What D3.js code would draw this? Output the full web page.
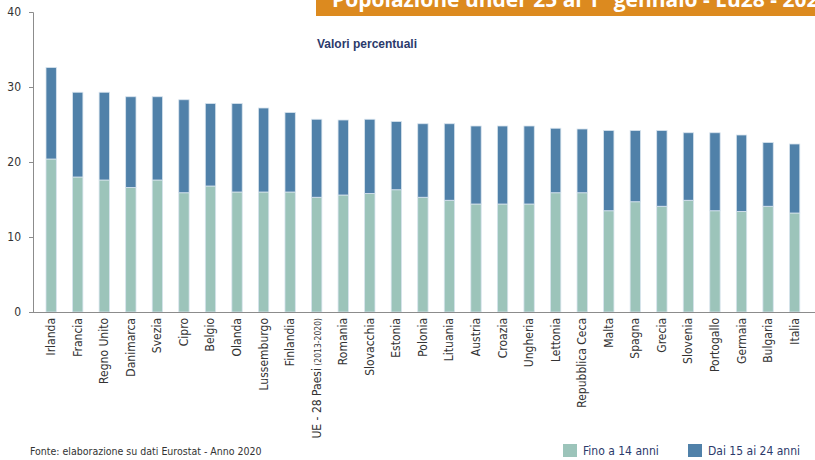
<!DOCTYPE html>
<html>
<head>
<meta charset="utf-8">
<script src="https://cdn.jsdelivr.net/npm/d3@7"></script>
<style>
    body { margin: 0; background: #fff; }
    svg { display: block; }
</style>
</head>
<body>
<svg id="bar" width="815" height="460"></svg>
<script>
// paesi, ordinati per popolazione under 25
var paesi = ["Irlanda", "Francia", "Regno Unito", "Danimarca", "Svezia", "Cipro", "Belgio", "Olanda",
    "Lussemburgo", "Finlandia", "UE - 28 Paesi", "Romania", "Slovacchia", "Estonia", "Polonia",
    "Lituania", "Austria", "Croazia", "Ungheria", "Lettonia", "Repubblica Ceca", "Malta", "Spagna",
    "Grecia", "Slovenia", "Portogallo", "Germaia", "Bulgaria", "Italia"];

// fino a 14 anni (%)
var fino14 = [20.4, 18.0, 17.6, 16.6, 17.6, 15.9, 16.8, 16.0, 16.0, 16.0, 15.3, 15.6, 15.8, 16.3, 15.3,
    14.9, 14.4, 14.4, 14.4, 15.9, 15.9, 13.5, 14.7, 14.1, 14.9, 13.5, 13.4, 14.1, 13.2];

// totale under 25 (%)
var totale = [32.6, 29.3, 29.3, 28.7, 28.7, 28.3, 27.8, 27.8, 27.2, 26.6, 25.7, 25.6, 25.7, 25.4, 25.1,
    25.1, 24.8, 24.8, 24.8, 24.5, 24.4, 24.2, 24.2, 24.2, 23.9, 23.9, 23.6, 22.6, 22.4];

var yTicks = [0, 10, 20, 30, 40];
var serie = ["Fino a 14 anni", "Dai 15 ai 24 anni"];

var font = "'Liberation Sans Narrow', 'DejaVu Sans Condensed', sans-serif";
var colori = ["#9cc4ba", "#5081a9"];

var svg = d3.select("svg#bar");

// titolo (tagliato in alto come nell'originale)
svg.append("rect")
    .attr("x", 316)
    .attr("y", -10)
    .attr("width", 510)
    .attr("height", 26)
    .attr("fill", "#dc8a1f");

svg.append("text")
    .attr("x", 332)
    .attr("y", 7)
    .attr("fill", "#fff")
    .attr("font-family", "'Open Sans', sans-serif")
    .attr("font-weight", "bold")
    .attr("font-size", "21px")
    .text("Popolazione under 25 al 1° gennaio - Eu28 - 2020");

svg.append("text")
    .attr("x", 317)
    .attr("y", 48)
    .attr("fill", "#2b3a6b")
    .attr("font-family", "'Liberation Sans', Arial, sans-serif")
    .attr("font-weight", "bold")
    .attr("font-size", "12px")
    .text("Valori percentuali");

var x = d3.scaleBand()
    .domain(paesi)
    .range([37.9, 807.9])
    .paddingInner(0.61)
    .paddingOuter(0.305);

var y = d3.scaleLinear().domain([0, 40]).range([312, 12]);

var data = paesi.map(function(p, i) {
    return { paese: p, a: fino14[i], b: totale[i] - fino14[i] };
});
var stack = d3.stack().keys(["a", "b"])(data);

// asse y
var yAxis = svg.append("g")
    .attr("transform", "translate(33,0)")
    .call(d3.axisLeft(y).tickValues(yTicks).tickSize(4).tickPadding(8));
yAxis.select(".domain").attr("stroke", "#8c8c8c");
yAxis.selectAll(".tick line").attr("stroke", "#8c8c8c");
yAxis.selectAll("text")
    .attr("font-family", font)
    .attr("font-size", "12px")
    .attr("fill", "#333");

// barre
svg.append("g")
    .selectAll("g")
    .data(stack)
    .enter()
    .append("g")
    .attr("fill", function(d, i) { return colori[i]; })
    .selectAll("rect")
    .data(function(d) { return d; })
    .enter()
    .append("rect")
    .attr("x", function(d) { return x(d.data.paese); })
    .attr("y", function(d) { return y(d[1]); })
    .attr("width", x.bandwidth())
    .attr("height", function(d) { return y(d[0]) - y(d[1]); })
    .attr("stroke", "#d8e4ee")
    .attr("stroke-width", 0.8);

// asse x
svg.append("line")
    .attr("x1", 33)
    .attr("x2", 815)
    .attr("y1", y(0) + 0.5)
    .attr("y2", y(0) + 0.5)
    .attr("stroke", "#8c8c8c");

var labels = svg.append("g")
    .selectAll("text")
    .data(paesi)
    .enter()
    .append("text")
    .attr("transform", function(d) {
        return "translate(" + (x(d) + x.bandwidth() / 2 + 4) + ",318) rotate(-90)";
    })
    .attr("text-anchor", "end")
    .attr("font-family", font)
    .attr("font-size", "12px")
    .attr("fill", "#333")
    .text(function(d) { return d; });

labels.filter(function(d) { return d === "UE - 28 Paesi"; })
    .append("tspan")
    .attr("font-size", "8.5px")
    .text(" (2013-2020)");

// fonte
svg.append("text")
    .attr("x", 30)
    .attr("y", 455)
    .attr("font-family", font)
    .attr("font-size", "10.5px")
    .attr("fill", "#333")
    .text("Fonte: elaborazione su dati Eurostat - Anno 2020");

// legenda
var legendX = [563, 688];
var legend = svg.append("g")
    .selectAll("g")
    .data(serie)
    .enter()
    .append("g")
    .attr("transform", function(d, i) { return "translate(" + legendX[i] + ",444)"; });

legend.append("rect")
    .attr("width", 14)
    .attr("height", 13)
    .attr("fill", function(d, i) { return colori[i]; });

legend.append("text")
    .attr("x", 20)
    .attr("y", 11)
    .attr("font-family", font)
    .attr("font-size", "12px")
    .attr("fill", "#2b3a6b")
    .text(function(d) { return d; });
</script>
</body>
</html>
